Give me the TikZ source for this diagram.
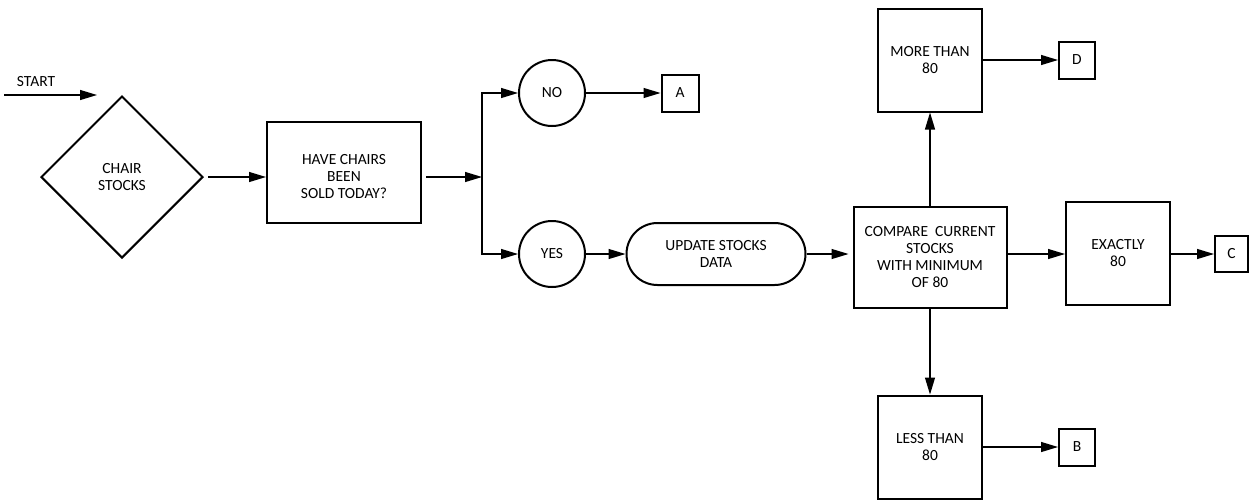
\documentclass[tikz,border=0pt]{standalone}
\usepackage{fontspec}
\setmainfont{Carlito}
\usetikzlibrary{shapes.geometric,arrows.meta}
\begin{document}
\begin{tikzpicture}[x=1pt,y=-1pt,
  every node/.style={font=\fontsize{15.5}{17}\selectfont, align=center, inner sep=0pt},
  box/.style={draw, line width=2pt, rectangle},
  conn/.style={draw, line width=1.2pt, -{Triangle[length=17pt,width=10pt]}}]
\useasboundingbox (0,0) rectangle (1249,499);
\node[draw, line width=2pt, diamond, aspect=1, minimum size=162pt] (chair) at (122,177) {CHAIR\\STOCKS};
\node[box, minimum width=154pt, minimum height=101pt] (sold) at (344,172) {};
\node (soldtxt) at (344,177) {HAVE CHAIRS\\BEEN\\SOLD TODAY?};
\node[draw, circle, line width=2pt, minimum size=66pt] (no) at (552,93) {NO};
\node[draw, circle, line width=2pt, minimum size=66pt] (yes) at (552,254) {YES};
\node[box, minimum size=37pt] (A) at (680,93) {A};
\node[draw, line width=2pt, rounded corners=31pt, minimum width=179pt, minimum height=62pt] (upd) at (716,254) {UPDATE STOCKS\\DATA};
\node[box, minimum width=153pt, minimum height=101pt] (cmp) at (930,257) {COMPARE\ \ CURRENT\\STOCKS\\WITH MINIMUM\\OF 80};
\node[box, minimum width=104pt, minimum height=103pt] (more) at (930,60) {MORE THAN\\80};
\node[box, minimum width=104pt, minimum height=103pt] (exact) at (1118,253.5) {EXACTLY\\80};
\node[box, minimum width=104pt, minimum height=103pt] (less) at (930,447) {LESS THAN\\80};
\node[box, minimum width=36pt, minimum height=37pt] (D) at (1077,60) {D};
\node[box, minimum width=36pt, minimum height=37pt] (B) at (1077,447) {B};
\node[box, minimum width=33pt, minimum height=36pt] (C) at (1231.5,254) {C};
\node (startlbl) at (36,82) {START};
\coordinate (s0) at (4,95);
\coordinate (s1) at (97,95);
\coordinate (j) at (482,177);
\draw[conn] (s0) -- (s1);
\draw[conn] (chair.east) ++(4,0) -- (sold.west |- chair.east);
\draw[conn] (sold.east |- j) ++(4,0) -- (j);
\draw[conn] (j) |- (no.west);
\draw[conn] (j) |- (yes.west);
\draw[conn] (no.east) -- (A.west |- no.east);
\draw[conn] (yes.east) -- (upd.west);
\draw[conn] (upd.east) -- ([xshift=-4pt]cmp.west |- upd.east);
\draw[conn] (cmp.north) -- (more.south);
\draw[conn] (cmp.south) -- (less.north);
\draw[conn] (cmp.east |- upd.east) -- (exact.west |- upd.east);
\draw[conn] (exact.east |- C) -- (C.west);
\draw[conn] (more.east) -- (D.west);
\draw[conn] (less.east) -- (B.west);
\end{tikzpicture}
\end{document}
